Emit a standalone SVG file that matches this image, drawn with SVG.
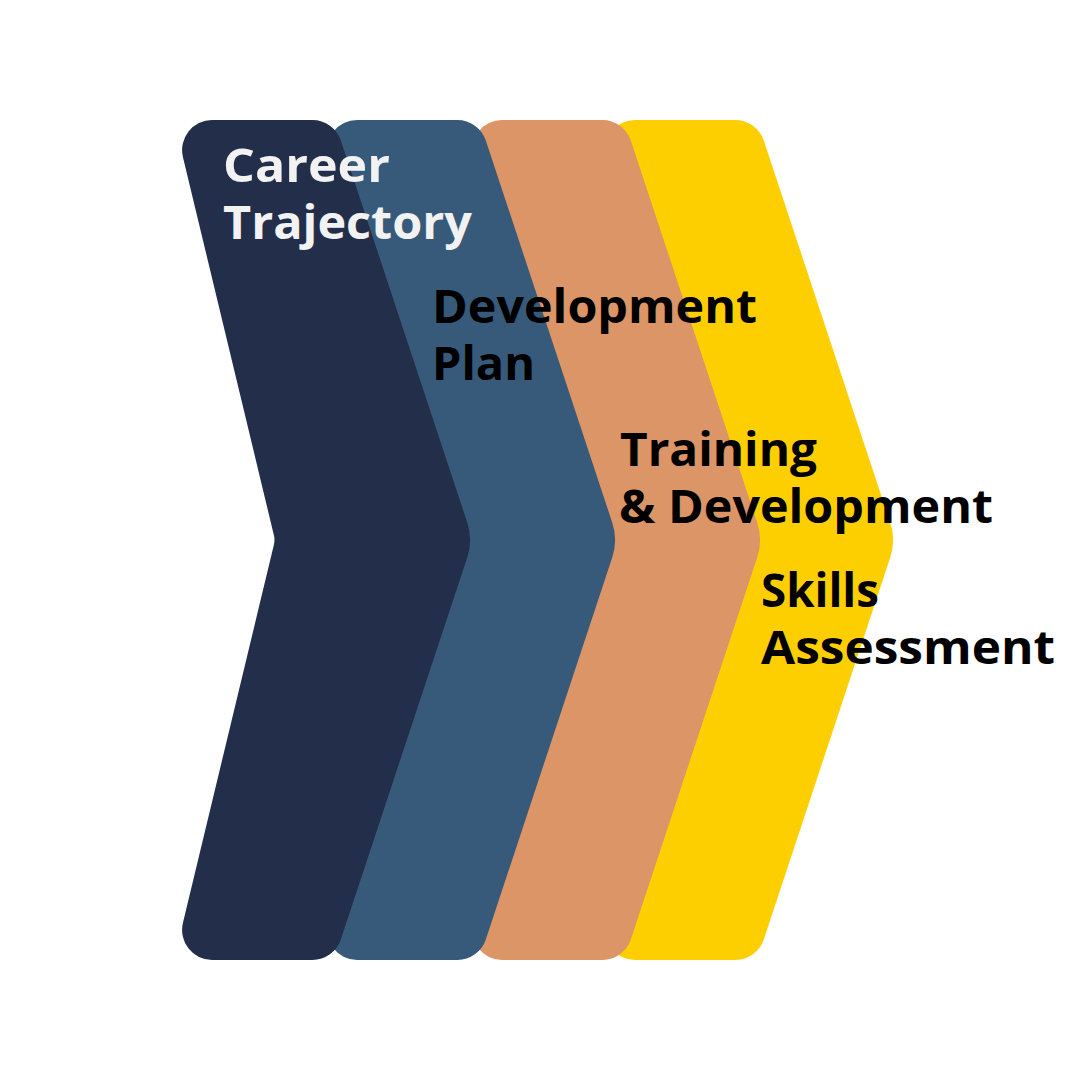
<svg xmlns="http://www.w3.org/2000/svg" xmlns:xlink="http://www.w3.org/1999/xlink" width="1080" height="1080" viewBox="0 0 1080 1080">
<style>
.lbl{font-family:"Open Sans","Liberation Sans",sans-serif;font-weight:700;font-size:46px;}
.light{fill:#f2f2f2;}
.dark{fill:#000000;}
</style>
<defs>
<path id="chev" d="M 212,120 L 312.4,120 A 30 30 0 0 1 340.8,140.5 L 467.3,522.8 A 55 55 0 0 1 467.3,557.2 L 340.8,939.5 A 30 30 0 0 1 312.4,960 L 212,960 A 30 30 0 0 1 182.9,923.1 L 273.9,544.7 A 20 20 0 0 0 273.9,535.3 L 182.9,156.9 A 30 30 0 0 1 212,120 Z"/>
</defs>
<rect width="1080" height="1080" fill="#ffffff"/>
<g id="skills-assessment">
<use href="#chev" xlink:href="#chev" transform="translate(423,0)" fill="#fecf00"/>
</g>
<g id="training-development">
<use href="#chev" xlink:href="#chev" transform="translate(290,0)" fill="#db9566"/>
</g>
<g id="development-plan">
<use href="#chev" xlink:href="#chev" transform="translate(145,0)" fill="#375a7a"/>
</g>
<g id="career-trajectory">
<use href="#chev" xlink:href="#chev" fill="#232e4a"/>
</g>
<g id="connectors"></g>
<g id="labels">
<text class="lbl light" x="223" y="182" textLength="167" lengthAdjust="spacingAndGlyphs">Career</text>
<text class="lbl light" x="223" y="239" textLength="249" lengthAdjust="spacingAndGlyphs">Trajectory</text>
<text class="lbl dark" x="432" y="323" textLength="325" lengthAdjust="spacingAndGlyphs">Development</text>
<text class="lbl dark" x="432" y="380" textLength="103" lengthAdjust="spacingAndGlyphs">Plan</text>
<text class="lbl dark" x="620" y="466" textLength="197" lengthAdjust="spacingAndGlyphs">Training</text>
<text class="lbl dark" x="619" y="523" textLength="374" lengthAdjust="spacingAndGlyphs">&amp; Development</text>
<text class="lbl dark" x="761" y="607" textLength="118" lengthAdjust="spacingAndGlyphs">Skills</text>
<text class="lbl dark" x="761" y="664" textLength="294" lengthAdjust="spacingAndGlyphs">Assessment</text>
</g>
</svg>
